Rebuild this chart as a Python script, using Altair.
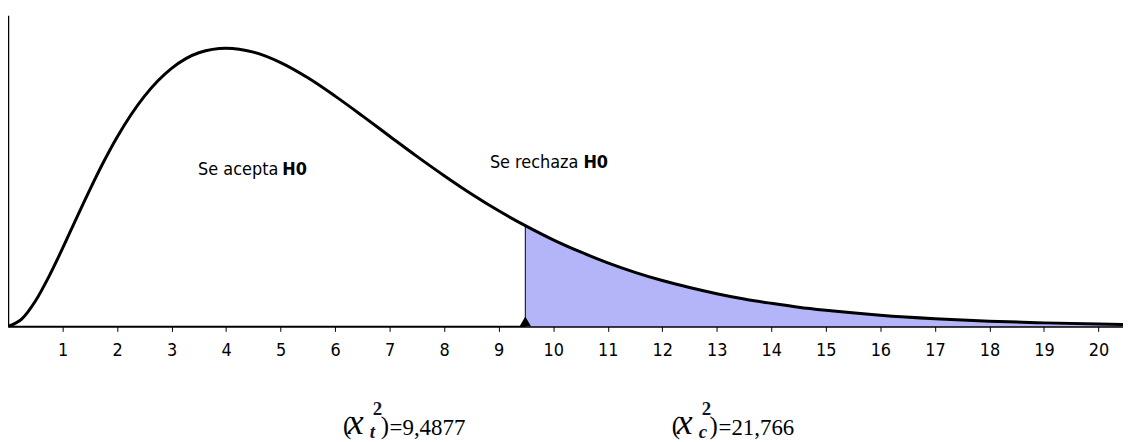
import altair as alt
import pandas as pd

# Chi-square density curve
xs = [0, 0.25, 0.5, 0.75, 1, 1.25, 1.5, 1.75, 2, 2.5, 3, 3.5, 4, 4.5, 5, 5.5, 6,
      6.5, 7, 7.5, 8, 8.5, 9, 9.4877, 10, 10.5, 11, 11.5, 12, 12.5, 13, 13.5,
      14, 14.5, 15, 16, 17, 18, 19, 20, 20.45]
ys = [0, 0.0035, 0.0122, 0.0242, 0.0379, 0.0523, 0.0664, 0.0798, 0.0920, 0.1119,
      0.1255, 0.1331, 0.1353, 0.1334, 0.1283, 0.1209, 0.1120, 0.1024, 0.0925,
      0.0827, 0.0733, 0.0644, 0.0562, 0.0490, 0.0421, 0.0362, 0.0309, 0.0263,
      0.0223, 0.0189, 0.0159, 0.0133, 0.0112, 0.0093, 0.0078, 0.0054, 0.0037,
      0.0025, 0.0017, 0.0011, 0.0009]
crit = 9.4877
tick_values = list(range(1, 21))
label_accept = ("Se acepta", "H0")
label_reject = ("Se rechaza", "H0")
formula_t = ("t", "=9,4877")
formula_c = ("c", "=21,766")

X_MAX = 20.45
Y_MAX = 0.1513

df = pd.DataFrame({"x": xs, "y": ys})
df_rej = df[df["x"] >= crit]
crit_y = ys[xs.index(crit)]
df_crit = pd.DataFrame({"x": [crit], "y0": [0.0], "y1": [crit_y]})

NARROW = "DejaVu Sans Condensed"
SERIF = "Liberation Serif"

xscale = alt.Scale(domain=[0, X_MAX], nice=False, zero=False)
yscale = alt.Scale(domain=[0, Y_MAX], nice=False)

xaxis = alt.Axis(values=tick_values, format="d", title=None, grid=False, domainColor="black",
                 domainWidth=2, tickColor="black", tickSize=5, tickWidth=1,
                 labelFont=NARROW, labelFontSize=18, labelColor="black", labelPadding=10)
yaxis = alt.Axis(title=None, grid=False, labels=False, ticks=False,
                 domainColor="black", domainWidth=1.5)

area = alt.Chart(df_rej).mark_area(color="#b4b4f8", interpolate="monotone").encode(
    x=alt.X("x:Q", scale=xscale, axis=xaxis),
    y=alt.Y("y:Q", scale=yscale, axis=yaxis),
)
line = alt.Chart(df).mark_line(color="black", strokeWidth=3, interpolate="monotone").encode(
    x=alt.X("x:Q", scale=xscale),
    y=alt.Y("y:Q", scale=yscale),
)
rule = alt.Chart(df_crit).mark_rule(color="black", strokeWidth=1).encode(
    x=alt.X("x:Q", scale=xscale),
    y=alt.Y("y0:Q", scale=yscale),
    y2="y1:Q",
)
tri = alt.Chart(df_crit).mark_point(shape="triangle-up", filled=True, color="black",
                                    opacity=1, size=130, yOffset=-5).encode(
    x=alt.X("x:Q", scale=xscale),
    y=alt.Y("y0:Q", scale=yscale),
)

one = pd.DataFrame({"k": [0]})


def txt(s, px, py, font=NARROW, size=20, weight="normal", style="normal",
        align="left", baseline="alphabetic", color="black"):
    return alt.Chart(one).mark_text(
        text=s, font=font, fontSize=size, fontWeight=weight, fontStyle=style,
        align=align, baseline=baseline, color=color,
    ).encode(x=alt.value(px), y=alt.value(py))


texts = [
    txt(label_accept[0], 272, 156, size=18, align="right", baseline="middle"),
    txt(label_accept[1], 276, 156, size=18, weight="bold", baseline="middle"),
    txt(label_reject[0], 574, 149, size=18, align="right", baseline="middle"),
    txt(label_reject[1], 579, 149, size=18, weight="bold", baseline="middle"),
]


def formula(sub, rest, ox):
    return [
        txt("(", ox + 337, 421, font=SERIF, size=25),
        txt("x", ox + 342, 421, font=SERIF, size=36, style="italic"),
        txt("2", ox + 367, 402, font=SERIF, size=19, weight="bold", color="#141430"),
        txt(sub, ox + 364, 425, font=SERIF, size=19, weight="bold", style="italic", color="#141430"),
        txt(")", ox + 375, 421, font=SERIF, size=25),
        txt(rest, ox + 384, 422, font=SERIF, size=23),
    ]


texts += formula(formula_t[0], formula_t[1], 0)
texts += formula(formula_c[0], formula_c[1], 331)

chart = alt.layer(area, line, rule, tri, *texts).properties(
    width=1122, height=313,
    padding={"left": 0, "top": 6, "right": 0, "bottom": 115},
    autosize=alt.AutoSizeParams(type="none"),
    background="white",
).configure_view(stroke=None)

chart.save("out.html", embed_options={"renderer": "svg", "actions": False})
